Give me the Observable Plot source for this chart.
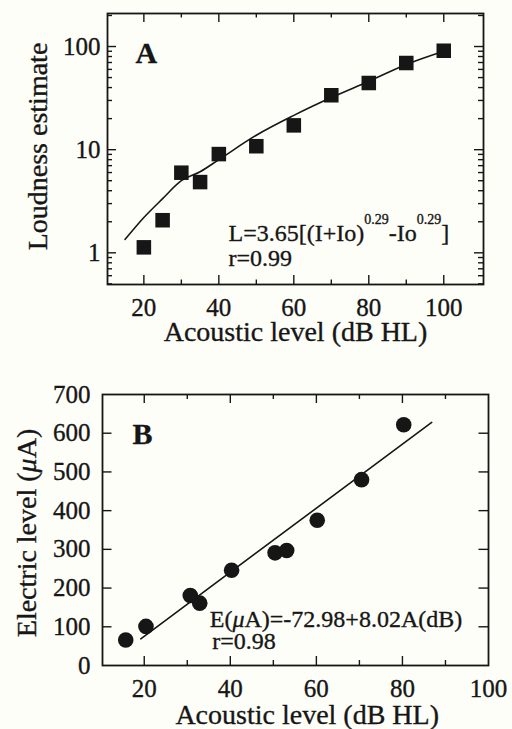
<!DOCTYPE html>
<html><head><meta charset="utf-8">
<script src="https://cdn.jsdelivr.net/npm/d3@7"></script>
<script src="https://cdn.jsdelivr.net/npm/@observablehq/plot@0.6"></script>
<style>
html,body{margin:0;padding:0;background:#fefef8;}
#chart{width:512px;height:729px;position:relative;overflow:hidden;}
#chart svg{display:block;}
</style></head><body><div id="chart"></div>
<script>
// ---- Panel A data ----
const loudLevel = [20, 25, 30, 35, 40, 50, 60, 70, 80, 90, 100];
const loudEstimate = [1.13, 2.07, 5.98, 4.85, 9.06, 10.8, 17.2, 33.7, 44.3, 69.2, 91];
const fitLevelA = [15, 20, 25, 30, 35, 40, 50, 60, 70, 80, 90, 100];
const fitLoudA = [1.35, 2.2, 3.35, 5.0, 6.1, 8.0, 13.8, 21.5, 32, 46, 67, 90];
const xTicksA = [20, 40, 60, 80, 100];
const xMinorA = [30, 50, 70, 90];
const yTicksA = [1, 10, 100];
const yMinorA = [0.5, 0.6, 0.7, 0.8, 0.9, 2, 3, 4, 5, 6, 7, 8, 9, 20, 30, 40, 50, 60, 70, 80, 90, 200];
const eqAParts = ["L=3.65[(I+Io)", "0.29", "-Io", "0.29", "]"];
const fitStatA = "r=0.99";

// ---- Panel B data ----
const elecLevel = [15.7, 20.4, 30.7, 32.9, 40.3, 50.4, 53.1, 60.2, 70.5, 80.3];
const elecCurrent = [66, 101, 181, 161, 246, 291, 297, 375, 480, 622];
const fitLevelB = [19.2, 86.8];
const fitCurrentB = [69, 628];
const xTicksB = [20, 40, 60, 80, 100];
const xMajorB = [20, 40, 60, 80];
const xMinorB = [30, 50, 70, 90];
const yTicksB = [0, 100, 200, 300, 400, 500, 600, 700];
const yInnerB = [100, 200, 300, 400, 500, 600];
const eqBParts = ["E(", "μ", "A)=-72.98+8.02A(dB)"];
const fitStatB = "r=0.98";

const FONT = "'Liberation Serif','Times New Roman',serif";
const INK = "#161616";
const SW = 1.4;
const TXT = {fill: INK, stroke: INK, strokeWidth: 0.35, lineAnchor: "middle"};

function xTicks(values, len, ph) {
  return [
    Plot.tickX(values, {x: d => d, insetTop: ph - len, stroke: INK, strokeWidth: SW}),
    Plot.tickX(values, {x: d => d, insetBottom: ph - len, stroke: INK, strokeWidth: SW})
  ];
}
function yTicks(values, len, pw) {
  return [
    Plot.tickY(values, {y: d => d, insetRight: pw - len, stroke: INK, strokeWidth: SW}),
    Plot.tickY(values, {y: d => d, insetLeft: pw - len, stroke: INK, strokeWidth: SW})
  ];
}

const chart = document.getElementById("chart");

// ---- Panel A ----
{
  const W = 512, H = 360, mT = 13, mR = 29, mB = 76, mL = 107;
  const pw = W - mL - mR, ph = H - mT - mB;
  const idx = d3.range(loudLevel.length);
  const fidx = d3.range(fitLevelA.length);
  const svg = Plot.plot({
    width: W, height: H, marginTop: mT, marginRight: mR, marginBottom: mB, marginLeft: mL,
    x: {type: "linear", domain: [10.3, 110.6], axis: null},
    y: {type: "log", domain: [0.493, 209], axis: null},
    style: {fontFamily: FONT, background: "transparent", color: INK, overflow: "visible"},
    marks: [
      ...xTicks(xTicksA, 9, ph),
      ...xTicks(xMinorA, 4.5, ph),
      ...yTicks(yTicksA, 9, pw),
      ...yTicks(yMinorA, 5, pw),
      Plot.line(fidx, {x: i => fitLevelA[i], y: i => fitLoudA[i], curve: "monotone-x", stroke: INK, strokeWidth: 1.6}),
      Plot.dot(idx, {x: i => loudLevel[i], y: i => loudEstimate[i], symbol: "square", r: 8.2, fill: INK, stroke: "none"}),
      Plot.frame({stroke: INK, strokeWidth: 1.8}),
      Plot.text(xTicksA, {...TXT, x: d => d, text: d => String(d), frameAnchor: "bottom", dy: 23.5, fontSize: 25, textAnchor: "middle"}),
      Plot.text(yTicksA, {...TXT, y: d => d, text: d => String(d), frameAnchor: "left", textAnchor: "end", dx: -7, fontSize: 25}),
      Plot.text(["Acoustic level (dB HL)"], {...TXT, text: d => d, frameAnchor: "bottom", dy: 48, fontSize: 28, textAnchor: "middle"}),
      Plot.text(["Loudness estimate"], {...TXT, text: d => d, frameAnchor: "left", rotate: -90, dx: -69, dy: -2.5, fontSize: 28, textAnchor: "middle"}),
      Plot.text(["A"], {...TXT, text: d => d, frameAnchor: "top-left", dx: 28, dy: 40, textAnchor: "start", fontSize: 30, fontWeight: "bold"}),
      Plot.text([eqAParts.join("")], {...TXT, text: d => d, frameAnchor: "top-left", dx: 121, dy: 220, textAnchor: "start", fontSize: 24}),
      Plot.text([fitStatA], {...TXT, text: d => d, frameAnchor: "top-left", dx: 121, dy: 244.5, textAnchor: "start", fontSize: 24})
    ]
  });
  chart.appendChild(svg);
}

// ---- Panel B ----
{
  const W = 512, H = 369, mT = 34, mR = 24, mB = 64, mL = 102;
  const pw = W - mL - mR, ph = H - mT - mB;
  const idx = d3.range(elecLevel.length);
  const fidx = d3.range(fitLevelB.length);
  const svg = Plot.plot({
    width: W, height: H, marginTop: mT, marginRight: mR, marginBottom: mB, marginLeft: mL,
    x: {type: "linear", domain: [10.3, 100], axis: null},
    y: {type: "linear", domain: [0, 700], axis: null},
    style: {fontFamily: FONT, background: "transparent", color: INK, overflow: "visible"},
    marks: [
      ...xTicks(xMajorB, 9, ph),
      ...xTicks(xMinorB, 5, ph),
      ...yTicks(yInnerB, 9.5, pw),
      Plot.line(fidx, {x: i => fitLevelB[i], y: i => fitCurrentB[i], stroke: INK, strokeWidth: 1.6}),
      Plot.dot(idx, {x: i => elecLevel[i], y: i => elecCurrent[i], r: 7.8, fill: INK, stroke: "none"}),
      Plot.frame({stroke: INK, strokeWidth: 1.8}),
      Plot.text(xTicksB, {...TXT, x: d => d, text: d => String(d), frameAnchor: "bottom", dy: 23.5, fontSize: 25, textAnchor: "middle"}),
      Plot.text(yTicksB, {...TXT, y: d => d, text: d => String(d), frameAnchor: "left", textAnchor: "end", dx: -12, fontSize: 25}),
      Plot.text(["Acoustic level (dB HL)"], {...TXT, text: d => d, frameAnchor: "bottom", dx: 11.7, dy: 49.5, fontSize: 28, textAnchor: "middle"}),
      Plot.text(["Electric level (μA)"], {...TXT, text: d => d, frameAnchor: "left", rotate: -90, dx: -75.5, dy: 3, fontSize: 28, textAnchor: "middle"}),
      Plot.text(["B"], {...TXT, text: d => d, frameAnchor: "top-left", dx: 30, dy: 39.7, textAnchor: "start", fontSize: 30, fontWeight: "bold"}),
      Plot.text([eqBParts.join("")], {...TXT, text: d => d, frameAnchor: "top-left", dx: 107.3, dy: 225, textAnchor: "start", fontSize: 24}),
      Plot.text([fitStatB], {...TXT, text: d => d, frameAnchor: "top-left", dx: 109.7, dy: 247, textAnchor: "start", fontSize: 24})
    ]
  });
  chart.appendChild(svg);
}

// ---- rich text: superscripts and italic mu ----
const NS = "http://www.w3.org/2000/svg";
function rebuild(el, parts) {
  el.textContent = "";
  parts.forEach(p => {
    const t = document.createElementNS(NS, "tspan");
    t.textContent = p.text;
    if (p.dy) t.setAttribute("dy", p.dy);
    if (p.size) t.setAttribute("font-size", p.size);
    if (p.italic) t.setAttribute("font-style", "italic");
    el.appendChild(t);
  });
}
chart.querySelectorAll("text").forEach(el => {
  const s = el.textContent;
  if (s === eqAParts.join("")) {
    rebuild(el, [
      {text: eqAParts[0]},
      {text: eqAParts[1], dy: -17, size: 14},
      {text: eqAParts[2], dy: 17},
      {text: eqAParts[3], dy: -17, size: 14},
      {text: eqAParts[4], dy: 17}
    ]);
  } else if (s === eqBParts.join("")) {
    rebuild(el, [{text: eqBParts[0]}, {text: eqBParts[1], italic: true}, {text: eqBParts[2]}]);
  } else if (s === "Electric level (μA)") {
    rebuild(el, [{text: "Electric level ("}, {text: "μ", italic: true}, {text: "A)"}]);
  }
});
</script>
</body></html>
